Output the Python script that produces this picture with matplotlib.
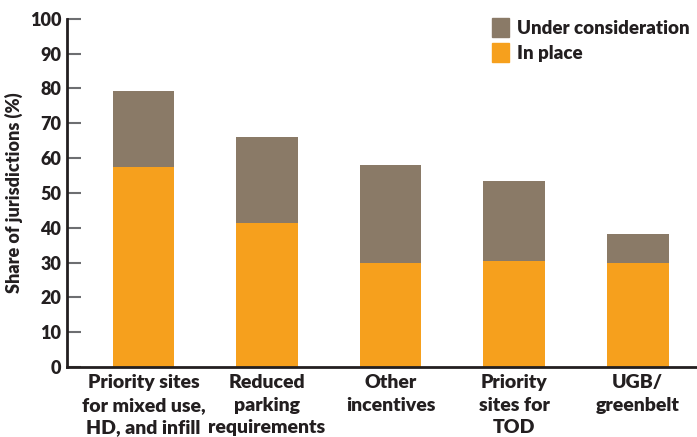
import matplotlib
matplotlib.use("Agg")
import matplotlib.pyplot as plt
from matplotlib.patches import Patch

categories = ["Priority sites\nfor mixed use,\nHD, and infill",
              "Reduced\nparking\nrequirements",
              "Other\nincentives",
              "Priority\nsites for\nTOD",
              "UGB/\ngreenbelt"]
in_place = [57.5, 41.4, 29.9, 30.5, 29.9]
total = [79.3, 66.1, 58.0, 53.4, 38.2]
under_consideration = [t - p for t, p in zip(total, in_place)]
yticks = list(range(0, 101, 10))

plt.rcParams['font.family'] = ['Lato', 'DejaVu Sans']

W = 'heavy'
txt = "#231f20"
orange = "#f6a01d"
brown = "#8a7a67"

fig = plt.figure(figsize=(6.97, 4.37), dpi=100)
ax = fig.add_axes([0.096, 0.160, 0.904, 0.797])
x = range(len(categories))
ax.bar(x, in_place, width=0.5, color=orange, label="In place")
ax.bar(x, under_consideration, bottom=in_place, width=0.5, color=brown,
       label="Under consideration")
ax.set_xlim(-0.62, 4.48)
ax.set_ylim(0, 100)
ax.set_yticks(yticks)
ax.set_yticklabels([str(v) for v in yticks], fontsize=13, color=txt, fontweight=W)
ax.tick_params(axis='y', direction='in', length=10, width=1.5, color='#6d6e71', pad=4)
ax.set_xticks(list(x))
ax.set_xticklabels(categories, fontsize=14, color=txt, fontweight=W, linespacing=1.4)
ax.tick_params(axis='x', length=0, pad=5)
for s in ['top', 'right']:
    ax.spines[s].set_visible(False)
ax.spines['left'].set_linewidth(2)
ax.spines['bottom'].set_linewidth(2)
ax.spines['left'].set_color(txt)
ax.spines['bottom'].set_color(txt)
ax.set_ylabel("Share of jurisdictions (%)", fontsize=13, color=txt, fontweight=W, labelpad=5)
handles = [Patch(color=brown, label="Under consideration"), Patch(color=orange, label="In place")]
leg = ax.legend(handles=handles, loc='upper right', bbox_to_anchor=(1.015, 1.05), frameon=False,
                prop={'size': 13.5, 'weight': W}, handlelength=0.9, handleheight=1.2,
                handletextpad=0.45, labelspacing=0.3)
for t in leg.get_texts():
    t.set_color(txt)
fig.savefig("out.png", dpi=100)
